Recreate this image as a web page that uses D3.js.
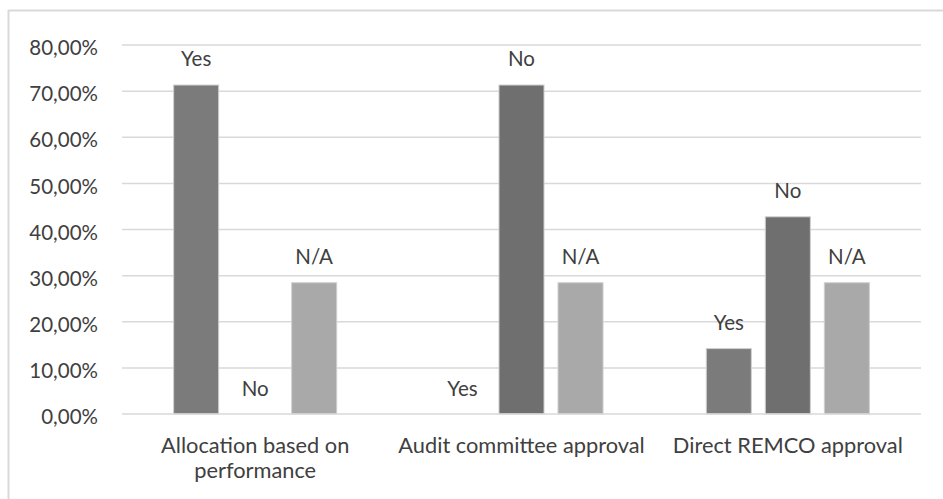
<!DOCTYPE html>
<html>
<head>
<meta charset="utf-8">
<script src="https://cdn.jsdelivr.net/npm/d3@7"></script>
<style>
  html, body { margin: 0; padding: 0; background: #ffffff; }
  svg { display: block; }
  text { font-family: Lato, "Open Sans", sans-serif; }
</style>
</head>
<body>
<svg id="chart" width="943" height="499"></svg>
<script>
// Share of responses per approval mechanism
const categories = ["Allocation based on performance", "Audit committee approval", "Direct REMCO approval"];
const seriesNames = ["Yes", "No", "N/A"];
const yesValues = [71.43, 0, 14.29];
const noValues = [0, 71.43, 42.86];
const naValues = [28.57, 28.57, 28.57];
const yTicks = [0, 10, 20, 30, 40, 50, 60, 70, 80];

const seriesValues = [yesValues, noValues, naValues];
const seriesColors = ["#7b7b7b", "#6f6f6f", "#a9a9a9"];

const W = 943, H = 499;
const plot = { left: 122, right: 921, top: 45, bottom: 414 };
const fontSize = 20.5;
const catFontSize = 21.8;
const textColor = "#404040";
const gridColor = "#d9d9d9";

const svg = d3.select("#chart");

// Chart frame (only the top and left edges fall inside the view)
svg.append("line").attr("x1", 8).attr("x2", W + 10).attr("y1", 10.5).attr("y2", 10.5)
  .attr("stroke", gridColor).attr("stroke-width", 2);
svg.append("line").attr("x1", 8.5).attr("x2", 8.5).attr("y1", 10).attr("y2", H + 10)
  .attr("stroke", gridColor).attr("stroke-width", 2);

const x0 = d3.scaleBand().domain(categories).range([plot.left, plot.right])
  .paddingInner(0.384).paddingOuter(0.192);
const x1 = d3.scaleBand().domain(seriesNames).range([0, x0.bandwidth()])
  .paddingInner(0.22).paddingOuter(0);
const y = d3.scaleLinear().domain([0, 80]).range([plot.bottom, plot.top]);

const locale = d3.formatLocale({ decimal: ",", thousands: ".", grouping: [3], currency: ["", "€"] });
const pct = locale.format(".2f");

// Horizontal gridlines
svg.append("g").selectAll("line").data(yTicks.filter(t => t > 0)).join("line")
  .attr("x1", plot.left).attr("x2", plot.right)
  .attr("y1", d => y(d)).attr("y2", d => y(d))
  .attr("stroke", gridColor).attr("stroke-width", 1.5);

// Y axis labels
const yAxis = d3.axisLeft(y).tickValues(yTicks).tickSize(0).tickPadding(24)
  .tickFormat(d => pct(d) + "%");
const gy = svg.append("g").attr("transform", `translate(${plot.left},0)`).call(yAxis);
gy.select(".domain").remove();
gy.selectAll("text").attr("font-size", fontSize).attr("fill", textColor)
  .attr("font-family", "Lato, 'Open Sans', sans-serif").attr("dy", "0.47em");

// Bars
const rows = categories.map((c, i) => ({ category: c, values: seriesNames.map((s, j) => ({ s, j, v: seriesValues[j][i] })) }));
const groups = svg.append("g").selectAll("g").data(rows).join("g")
  .attr("transform", d => `translate(${x0(d.category)},0)`);

groups.selectAll("rect").data(d => d.values.filter(e => e.v > 0)).join("rect")
  .attr("x", d => x1(d.s) + 0.5)
  .attr("width", x1.bandwidth() - 1)
  .attr("y", d => y(d.v) + 0.5)
  .attr("height", d => y(0) - y(d.v) - 0.5)
  .attr("fill", d => seriesColors[d.j])
  .attr("stroke", "#cfcfcf").attr("stroke-width", 1);

// Series name labels above each bar
groups.selectAll("text").data(d => d.values).join("text")
  .attr("x", d => x1(d.s) + x1.bandwidth() / 2)
  .attr("y", d => y(d.v) - 18.5)
  .attr("text-anchor", "middle")
  .attr("font-size", fontSize).attr("fill", textColor)
  .text(d => d.s);

// Baseline
svg.append("line").attr("x1", plot.left).attr("x2", plot.right)
  .attr("y1", y(0)).attr("y2", y(0))
  .attr("stroke", gridColor).attr("stroke-width", 1.5);

// Category axis with wrapped labels
const xAxis = d3.axisBottom(x0).tickSize(0).tickPadding(0);
const gx = svg.append("g").attr("transform", `translate(0,${plot.bottom})`).call(xAxis);
gx.select(".domain").remove();
gx.selectAll("text").attr("font-size", catFontSize).attr("fill", textColor)
  .attr("font-family", "Lato, 'Open Sans', sans-serif")
  .attr("dy", null).attr("y", 0)
  .each(function(d) {
    const t = d3.select(this);
    const words = d.split(" ");
    const maxW = x0.step() - 6;
    t.text(null);
    let line = [];
    let lines = [];
    let tspan = t.append("tspan");
    for (const w of words) {
      line.push(w);
      tspan.text(line.join(" "));
      if (tspan.node().getComputedTextLength() > maxW && line.length > 1) {
        line.pop();
        lines.push(line.join(" "));
        line = [w];
        tspan.text(w);
      }
    }
    lines.push(line.join(" "));
    t.text(null);
    lines.forEach((l, i) => {
      t.append("tspan").attr("x", 0).attr("y", 39 + i * 25).text(l);
    });
  });
</script>
</body>
</html>
